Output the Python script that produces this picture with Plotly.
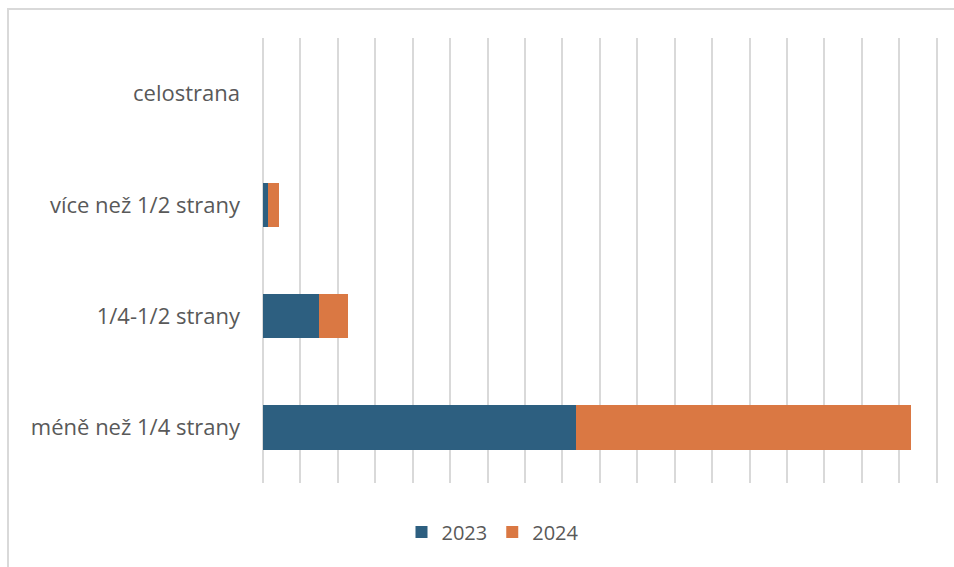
import plotly.graph_objects as go

# Share of articles by size (percent of each year's total)
categories = ["méně než 1/4 strany", "1/4-1/2 strany", "více než 1/2 strany", "celostrana"]
share_2023 = [83.7, 14.9, 1.4, 0.0]
share_2024 = [89.3, 7.9, 2.8, 0.0]
series_names = ["2023", "2024"]

BLUE = "#2D5F80"
ORANGE = "#DA7843"
TEXT = "#595959"
GRID = "#D9D9D9"
FONT = "'Open Sans', Lato, sans-serif"

fig = go.Figure()
for name, vals, col in [(series_names[0], share_2023, BLUE), (series_names[1], share_2024, ORANGE)]:
    fig.add_trace(go.Bar(
        y=categories, x=vals, name=name, orientation="h",
        marker=dict(color=col, line=dict(width=0)),
    ))

W, H = 954, 567
L, R, T, B = 263, 15, 38, 84
pw, ph = W - L - R, H - T - B

fig.update_layout(
    width=W, height=H,
    margin=dict(l=L, r=R, t=T, b=B),
    barmode="stack", bargap=0.6,
    plot_bgcolor="white", paper_bgcolor="white",
    font=dict(family=FONT, color=TEXT, size=19),
    xaxis=dict(range=[0, 180.6], dtick=10, showticklabels=False, showgrid=True,
               gridcolor=GRID, gridwidth=1.5, zeroline=True, zerolinecolor=GRID,
               zerolinewidth=1.5, showline=False, ticks=""),
    yaxis=dict(categoryorder="array", categoryarray=categories, showgrid=False,
               zeroline=False, showline=False, ticks="", ticklabelstandoff=22,
               tickfont=dict(size=22, color=TEXT, family=FONT)),
    legend=dict(orientation="h", x=(493 - L) / pw, xanchor="center",
                y=-(532 - (T + ph)) / ph, yanchor="middle",
                font=dict(size=20, color=TEXT, family=FONT),
                itemwidth=30, traceorder="normal"),
    showlegend=True,
)

# Light chart frame
fig.add_shape(type="rect", xref="paper", yref="paper",
              x0=(8 - L) / pw, x1=(W + 20 - L) / pw,
              y0=-(H + 20 - T - ph) / ph, y1=1 + (T - 9) / ph,
              line=dict(color=GRID, width=2), fillcolor="rgba(0,0,0,0)", layer="below")

fig.write_html("out.html")
